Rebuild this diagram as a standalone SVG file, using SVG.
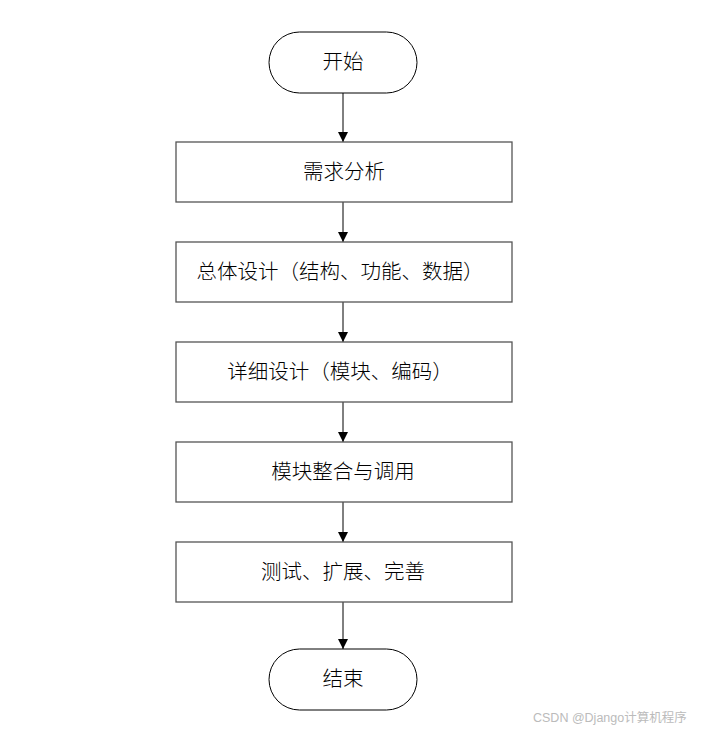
<svg xmlns="http://www.w3.org/2000/svg" width="701" height="732" viewBox="0 0 701 732">
<defs>
<marker id="arr" viewBox="0 0 10 10" refX="10" refY="5" markerWidth="10" markerHeight="10" markerUnits="userSpaceOnUse" orient="auto">
<path d="M0,0 L10,5 L0,10 z" fill="#000"/>
</marker>
<style>
.term{fill:#fff;stroke:#000;stroke-width:1}
.box{fill:#fff;stroke:#555;stroke-width:1.3}
.lbl{font-family:"Noto Sans CJK SC","Liberation Sans",sans-serif;font-weight:300;font-size:20.5px;fill:#000;text-anchor:middle;dominant-baseline:central}
.conn{stroke:#000;stroke-width:1;fill:none;marker-end:url(#arr)}
.wm{font-family:"Liberation Sans","Noto Sans CJK SC",sans-serif;font-size:12.5px;fill:#bbb}
</style>
</defs>
<rect width="701" height="732" fill="#fff"/>
<g id="connectors">
<line class="conn" x1="343" y1="93" x2="343" y2="142"/>
<line class="conn" x1="343" y1="202" x2="343" y2="242"/>
<line class="conn" x1="343" y1="302" x2="343" y2="342"/>
<line class="conn" x1="343" y1="402" x2="343" y2="442"/>
<line class="conn" x1="343" y1="502" x2="343" y2="542"/>
<line class="conn" x1="343" y1="602" x2="343" y2="649"/>
</g>
<g id="start">
<rect class="term" x="269" y="32" width="148" height="61" rx="30.5" ry="30.5"/>
<text class="lbl" x="343" y="60">开始</text>
</g>
<g id="n1">
<rect class="box" x="176" y="142" width="336" height="60"/>
<text class="lbl" x="344" y="170">需求分析</text>
</g>
<g id="n2">
<rect class="box" x="176" y="242" width="336" height="60"/>
<text class="lbl" x="340" y="270">总体设计（结构、功能、数据）</text>
</g>
<g id="n3">
<rect class="box" x="176" y="342" width="336" height="60"/>
<text class="lbl" x="340" y="370">详细设计（模块、编码）</text>
</g>
<g id="n4">
<rect class="box" x="176" y="442" width="336" height="60"/>
<text class="lbl" x="343" y="470">模块整合与调用</text>
</g>
<g id="n5">
<rect class="box" x="176" y="542" width="336" height="60"/>
<text class="lbl" x="343" y="570">测试、扩展、完善</text>
</g>
<g id="end">
<rect class="term" x="269" y="649" width="148" height="61" rx="30.5" ry="30.5"/>
<text class="lbl" x="343" y="677">结束</text>
</g>
<text class="wm" x="533" y="722">CSDN @Django计算机程序</text>
</svg>
